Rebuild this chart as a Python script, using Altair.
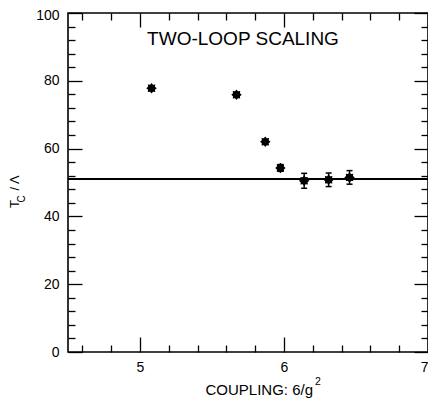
import altair as alt
import pandas as pd

# Data
coupling = [5.08, 5.67, 5.87, 5.975, 6.14, 6.31, 6.455]
tc_over_lambda = [77.8, 75.9, 62.0, 54.3, 50.5, 50.8, 51.5]
tc_error = [0.0, 0.0, 0.0, 1.0, 2.2, 2.0, 2.0]
scaling_level = 51

x_major = [5, 6, 7]
x_minor = [4.6, 4.8, 5.2, 5.4, 5.6, 5.8, 6.2, 6.4, 6.6, 6.8]
y_major = [0, 20, 40, 60, 80, 100]
y_minor = [4, 8, 12, 16, 24, 28, 32, 36, 44, 48, 52, 56, 64, 68, 72, 76, 84, 88, 92, 96]

df = pd.DataFrame({"coupling": coupling, "tc": tc_over_lambda, "err": tc_error})
df["lo"] = df["tc"] - df["err"]
df["hi"] = df["tc"] + df["err"]
df_err = df[df["err"] > 0]
one = df.head(1)

FONT = "Liberation Sans"
xs = alt.Scale(domain=[4.5, 7], nice=False, zero=False)
ys = alt.Scale(domain=[0, 100], nice=False, zero=False)

STAR = ("M1,0 L0.66,0.28 L0.707,0.707 L0.28,0.66 L0,1 L-0.28,0.66 L-0.707,0.707 "
        "L-0.66,0.28 L-1,0 L-0.66,-0.28 L-0.707,-0.707 L-0.28,-0.66 L0,-1 "
        "L0.28,-0.66 L0.707,-0.707 L0.66,-0.28 Z")


def tick_axis(orient, values, size):
    return alt.Axis(orient=orient, values=values, tickSize=size, offset=-size,
                    labels=False, domain=False, grid=False, title=None,
                    tickColor="black", tickWidth=1.3)


def carrier(ax_x, ax_y):
    return alt.Chart(df).mark_point(opacity=0).encode(
        x=alt.X("coupling:Q", scale=xs, axis=ax_x),
        y=alt.Y("tc:Q", scale=ys, axis=ax_y),
    )


def label(text, size, x, y, align="center", baseline="alphabetic", angle=0):
    return alt.Chart(one).mark_text(
        text=text, font=FONT, fontSize=size, color="black", angle=angle,
        align=align, baseline=baseline).encode(x=alt.value(x), y=alt.value(y))


points = alt.Chart(df).mark_point(shape=STAR, filled=True, color="black",
                                  size=110, opacity=1).encode(
    x=alt.X("coupling:Q", scale=xs,
            axis=alt.Axis(orient="bottom", values=x_major, ticks=False, domain=False,
                          grid=False, labelFont=FONT, labelFontSize=14,
                          labelColor="black", labelPadding=8, title=None)),
    y=alt.Y("tc:Q", scale=ys,
            axis=alt.Axis(orient="left", values=y_major, ticks=False, domain=False,
                          grid=False, labelFont=FONT, labelFontSize=14,
                          labelColor="black", labelPadding=9, title=None,
                          labelOffset={"condition": {"test": "datum.value == 100",
                                                     "value": 2},
                                       "value": 0})),
)

hline = alt.Chart(df).mark_rule(color="black", strokeWidth=1.3).encode(
    y=alt.Y(datum=scaling_level, type="quantitative", scale=ys, axis=None),
)

err_rules = alt.Chart(df_err).mark_rule(color="black", strokeWidth=1.5).encode(
    x=alt.X("coupling:Q", scale=xs, axis=None),
    y=alt.Y("lo:Q", scale=ys, axis=None),
    y2="hi:Q",
)

caps_lo = alt.Chart(df_err).mark_tick(orient="horizontal", size=6, thickness=1.5,
                                      color="black", opacity=1).encode(
    x=alt.X("coupling:Q", scale=xs, axis=None),
    y=alt.Y("lo:Q", scale=ys, axis=None),
)
caps_hi = alt.Chart(df_err).mark_tick(orient="horizontal", size=6, thickness=1.5,
                                      color="black", opacity=1).encode(
    x=alt.X("coupling:Q", scale=xs, axis=None),
    y=alt.Y("hi:Q", scale=ys, axis=None),
)

texts = [
    label("TWO-LOOP SCALING", 19, 175, 32),
    # x-axis title with superscript
    label("COUPLING:  6/g", 15, 245, 382, align="right"),
    label("2", 10.5, 247, 372, align="left"),
    # y-axis title T_C / Λ
    label("T", 13, -53, 191, baseline="middle", angle=270),
    label("C", 10, -46.5, 186, baseline="middle", angle=270),
    label("/ Λ", 13, -53, 170, baseline="middle", angle=270),
]

chart = alt.layer(
    points,
    carrier(tick_axis("bottom", x_major, 15), tick_axis("left", y_major, 14)),
    carrier(tick_axis("bottom", x_minor, 7), tick_axis("left", y_minor, 7)),
    carrier(tick_axis("top", x_major, 14), tick_axis("right", y_major, 14)),
    carrier(tick_axis("top", x_minor, 7), tick_axis("right", y_minor, 7)),
    hline, err_rules, caps_lo, caps_hi, *texts,
).resolve_scale(x="independent", y="independent").properties(
    width=360, height=339,
    autosize=alt.AutoSizeParams(type="none"),
    padding={"left": 60, "top": 5, "right": 0, "bottom": 46},
    background="white",
).configure_view(stroke="black", strokeWidth=1.6)

chart.save("out.html", embed_options={"renderer": "svg", "actions": False})
